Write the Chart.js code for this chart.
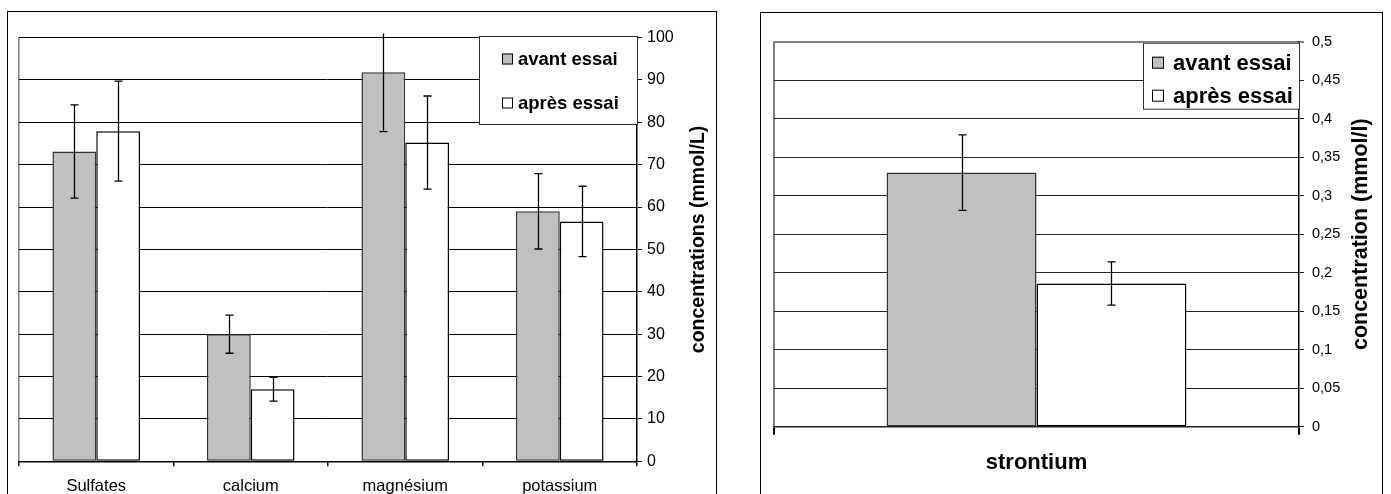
<!DOCTYPE html>
<html>
<head>
<meta charset="utf-8">
<script src="https://cdn.jsdelivr.net/npm/chart.js@4.4.1/dist/chart.umd.min.js"></script>
<style>
html, body { margin: 0; padding: 0; background: #fff; width: 1391px; height: 494px; overflow: hidden; }
.box { position: absolute; border: 1.5px solid #000; border-bottom: none; }
#boxA { left: 7px; top: 11px; width: 708px; height: 520px; }
#boxB { left: 760px; top: 12px; width: 621px; height: 520px; }
canvas { position: absolute; top: 0; }
#chartA { left: 0; }
#chartB { left: 740px; }
</style>
</head>
<body>
<div class="box" id="boxA"></div>
<div class="box" id="boxB"></div>
<canvas id="chartA" width="740" height="494"></canvas>
<canvas id="chartB" width="651" height="494"></canvas>
<script>
// --- data: major ions (mmol/L) ---
const categories = ['Sulfates', 'calcium', 'magnésium', 'potassium'];
const avantEssai = [73.1, 30, 91.8, 59];
const apresEssai = [77.9, 17, 75.2, 56.6];
const errAvant = [11, 4.5, 14, 8.9];
const errApres = [11.8, 2.8, 11, 8.3];

// --- data: strontium (mmol/l) ---
const srCategories = ['strontium'];
const srAvant = [0.33];
const srApres = [0.186];
const srErrAvant = [0.049];
const srErrApres = [0.028];

const seriesLabels = ['avant essai', 'après essai'];
const FONT = '"Liberation Sans", Arial, Helvetica, sans-serif';

// error bars drawn from the y scale
const errorBars = {
    id: 'errorBars',
    afterDatasetsDraw(chart) {
        const { ctx, chartArea, scales: { y } } = chart;
        ctx.save();
        ctx.beginPath();
        ctx.rect(chartArea.left, chartArea.top - 4, chartArea.right - chartArea.left, chartArea.bottom - chartArea.top + 4);
        ctx.clip();
        ctx.strokeStyle = '#000';
        ctx.lineWidth = 1.3;
        chart.data.datasets.forEach((ds, i) => {
            chart.getDatasetMeta(i).data.forEach((bar, j) => {
                const v = ds.data[j], e = ds.errors[j];
                const yt = y.getPixelForValue(v + e), yb = y.getPixelForValue(v - e);
                const x = Math.round(bar.x) + 0.5;
                ctx.beginPath();
                ctx.moveTo(x, yt); ctx.lineTo(x, yb);
                ctx.moveTo(x - 4, yt); ctx.lineTo(x + 4, yt);
                ctx.moveTo(x - 4, yb); ctx.lineTo(x + 4, yb);
                ctx.stroke();
            });
        });
        ctx.restore();
    }
};

// legend box inside the plot, top right
const boxLegend = {
    id: 'boxLegend',
    afterDraw(chart, args, o) {
        const { ctx, chartArea } = chart;
        const left = chartArea.right - o.width, top = chartArea.top + o.dy;
        ctx.save();
        ctx.fillStyle = '#fff';
        ctx.fillRect(left, top, o.width, o.height);
        ctx.strokeStyle = '#333';
        ctx.lineWidth = 1;
        ctx.strokeRect(left + 0.5, top + 0.5, o.width, o.height);
        ctx.font = 'bold ' + o.size + 'px ' + FONT;
        ctx.textBaseline = 'middle';
        chart.data.datasets.forEach((ds, i) => {
            const cy = top + o.rows[i];
            ctx.fillStyle = ds.backgroundColor;
            ctx.fillRect(left + o.swatchX, cy - o.swatch / 2, o.swatch, o.swatch);
            ctx.strokeStyle = '#000';
            ctx.strokeRect(left + o.swatchX + 0.5, cy - o.swatch / 2 + 0.5, o.swatch - 1, o.swatch - 1);
            ctx.fillStyle = '#000';
            ctx.fillText(ds.label, left + o.textX, cy + 1);
        });
        ctx.restore();
    }
};

// right-side axis title reading bottom to top
const sideTitle = {
    id: 'sideTitle',
    afterDraw(chart, args, o) {
        const { ctx, chartArea } = chart;
        ctx.save();
        ctx.translate(o.x, (chartArea.top + chartArea.bottom) / 2 + (o.dy || 0));
        ctx.rotate(-Math.PI / 2);
        ctx.font = 'bold ' + o.size + 'px ' + FONT;
        ctx.fillStyle = '#000';
        ctx.textAlign = 'center';
        ctx.textBaseline = 'middle';
        ctx.fillText(o.text, 0, 0);
        ctx.restore();
    }
};

function barDatasets(a, b, ea, eb) {
    return [
        { label: seriesLabels[0], data: a, errors: ea, backgroundColor: '#c0c0c0', borderColor: '#333', borderWidth: 1.5, borderSkipped: false },
        { label: seriesLabels[1], data: b, errors: eb, backgroundColor: '#ffffff', borderColor: '#000', borderWidth: 1.5, borderSkipped: false }
    ];
}

new Chart(document.getElementById('chartA'), {
    type: 'bar',
    data: { labels: categories, datasets: barDatasets(avantEssai, apresEssai, errAvant, errApres) },
    options: {
        responsive: false, animation: false,
        categoryPercentage: 0.567, barPercentage: 1,
        layout: { padding: { left: 19, top: 37.5, right: 0, bottom: 0 } },
        plugins: {
            legend: { display: false }, tooltip: { enabled: false },
            boxLegend: { width: 158, height: 88, dy: -1.5, size: 18.5, rows: [23, 67], swatch: 11, swatchX: 23, textX: 39 },
            sideTitle: { text: 'concentrations (mmol/L)', x: 699, dy: -10, size: 19.5 }
        },
        scales: {
            x: {
                afterFit: s => { s.height = 494 - 461.3; },
                grid: { offset: true, drawOnChartArea: true, color: c => c.index === 0 ? '#808080' : 'rgba(0,0,0,0)', tickColor: '#000', tickLength: 5, lineWidth: 1.5 },
                border: { color: '#000', width: 1.5 },
                ticks: { color: '#000', padding: 10, font: { family: FONT, size: 16.5 } }
            },
            y: {
                position: 'right', min: 0, max: 100,
                afterFit: s => { s.width = 103; },
                grid: { color: '#000', lineWidth: 1, tickLength: 5 },
                border: { color: '#000', width: 1.5 },
                ticks: { stepSize: 10, color: '#000', padding: 5, font: { family: FONT, size: 16 } }
            }
        }
    },
    plugins: [errorBars, boxLegend, sideTitle]
});

new Chart(document.getElementById('chartB'), {
    type: 'bar',
    data: { labels: srCategories, datasets: barDatasets(srAvant, srApres, srErrAvant, srErrApres) },
    options: {
        responsive: false, animation: false,
        categoryPercentage: 0.571, barPercentage: 1,
        layout: { padding: { left: 34, top: 41.7, right: 0, bottom: 0 } },
        plugins: {
            legend: { display: false }, tooltip: { enabled: false },
            boxLegend: { width: 156, height: 66, dy: 1, size: 22, rows: [20, 53], swatch: 12, swatchX: 9, textX: 30 },
            sideTitle: { text: 'concentration (mmol/l)', x: 621, size: 21.5 }
        },
        scales: {
            x: {
                afterFit: s => { s.height = 494 - 426.7; },
                grid: { offset: true, drawOnChartArea: true, color: c => c.index === 0 ? '#808080' : 'rgba(0,0,0,0)', tickColor: '#000', tickLength: 8, lineWidth: 2 },
                border: { color: '#222', width: 1.5 },
                ticks: { color: '#000', padding: 15, font: { family: FONT, size: 22, weight: 'bold' } }
            },
            y: {
                position: 'right', min: 0, max: 0.5,
                afterFit: s => { s.width = 92; },
                grid: { color: c => c.tick && c.tick.value === 0.5 ? '#808080' : '#222', lineWidth: c => c.tick && c.tick.value === 0.5 ? 2 : 1, tickLength: 5 },
                border: { color: '#000', width: 1.5 },
                ticks: {
                    stepSize: 0.05, color: '#000', padding: 8, font: { family: FONT, size: 14.5 },
                    callback: v => String(Math.round(v * 100) / 100).replace('.', ',')
                }
            }
        }
    },
    plugins: [errorBars, boxLegend, sideTitle]
});
</script>
</body>
</html>
